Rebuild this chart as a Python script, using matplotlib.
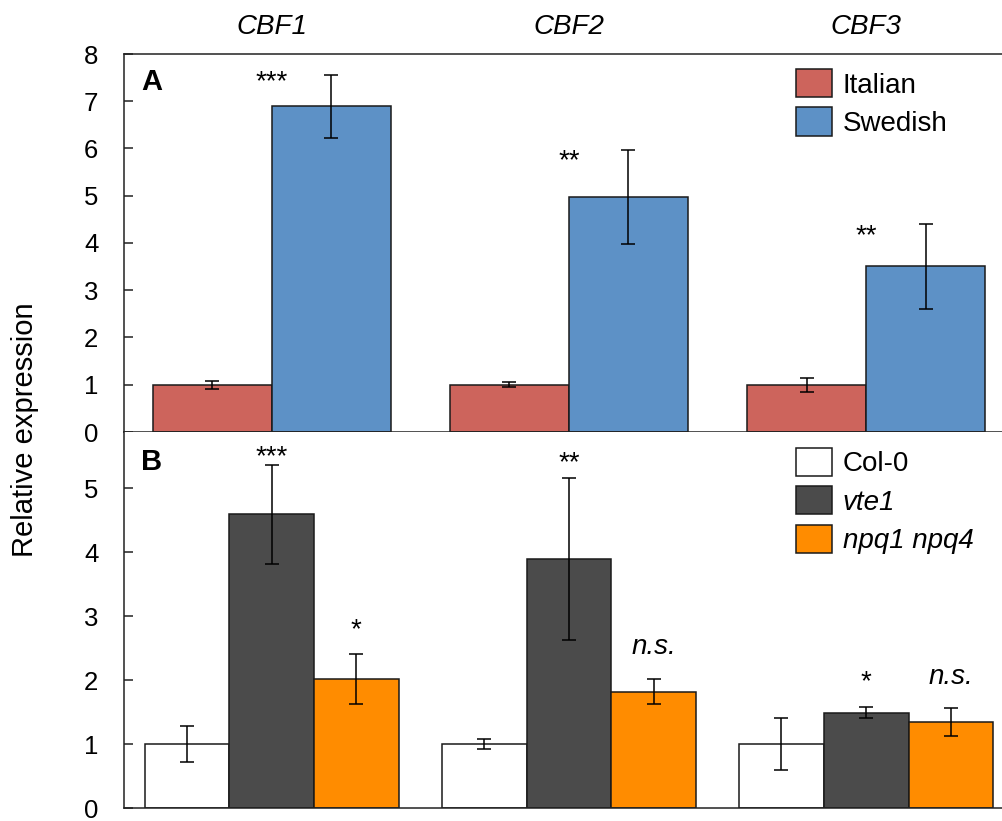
import matplotlib
matplotlib.use("Agg")
import matplotlib.pyplot as plt
import numpy as np

plt.rcParams['font.family'] = ['Liberation Sans', 'DejaVu Sans']

genes = ["CBF1", "CBF2", "CBF3"]

# panel A
italian = [1.0, 1.0, 1.0]
italian_err = [0.08, 0.05, 0.15]
swedish = [6.89, 4.97, 3.51]
swedish_err = [0.66, 1.0, 0.9]
sig_a = ["***", "**", "**"]
sig_a_y = [7.56, 5.88, 4.3]

# panel B
col0 = [1.0, 1.0, 1.0]
col0_err = [0.28, 0.08, 0.41]
vte1 = [4.59, 3.89, 1.49]
vte1_err = [0.77, 1.26, 0.085]
npq = [2.02, 1.82, 1.34]
npq_err = [0.39, 0.2, 0.22]
sig_vte1 = ["***", "**", "*"]
sig_vte1_y = [5.59, 5.49, 2.08]
sig_npq = ["*", "n.s.", "n.s."]
sig_npq_y = [2.89, 2.52, 2.05]

c_it = "#CD645C"
c_sw = "#5D91C6"
c_col = "white"
c_vte = "#4B4B4B"
c_npq = "#FF8C00"
edge = "#1a1a1a"

W, H = 1003, 821
fig = plt.figure(figsize=(W / 100, H / 100), dpi=100)

def fx(px):
    return px / W

def fy(py):
    return 1 - py / H

def star(ax, xx, yy, s):
    # asterisks sit high in the line box, so nudge them down a little
    ax.annotate(s, (xx, yy), xytext=(0, -5), textcoords="offset points",
                ha="center", va="center", fontsize=20)

left = 124
axA = fig.add_axes([fx(left), fy(432), 1 - fx(left), (432 - 54) / H])
axB = fig.add_axes([fx(left), fy(808), 1 - fx(left), (808 - 432) / H])

x = np.arange(len(genes))
ekw = dict(ecolor="black", elinewidth=1.1, capsize=4.8, capthick=1.1)

wa = 0.4
axA.bar(x - wa / 2, italian, wa, yerr=italian_err, color=c_it, edgecolor=edge,
        linewidth=1.1, label="Italian", error_kw=ekw)
axA.bar(x + wa / 2, swedish, wa, yerr=swedish_err, color=c_sw, edgecolor=edge,
        linewidth=1.1, label="Swedish", error_kw=ekw)
for i, s in enumerate(sig_a):
    star(axA, x[i], sig_a_y[i], s)

wb = 0.285
axB.bar(x - wb, col0, wb, yerr=col0_err, color=c_col, edgecolor=edge,
        linewidth=1.1, label="Col-0", error_kw=ekw)
axB.bar(x, vte1, wb, yerr=vte1_err, color=c_vte, edgecolor=edge,
        linewidth=1.1, label="vte1", error_kw=ekw)
axB.bar(x + wb, npq, wb, yerr=npq_err, color=c_npq, edgecolor=edge,
        linewidth=1.1, label="npq1 npq4", error_kw=ekw)
for i in range(len(genes)):
    star(axB, x[i], sig_vte1_y[i], sig_vte1[i])
    if sig_npq[i] == "n.s.":
        axB.text(x[i] + wb, sig_npq_y[i], sig_npq[i], ha="center", va="center",
                 fontsize=20, style="italic")
    else:
        star(axB, x[i] + wb, sig_npq_y[i], sig_npq[i])

xl = ((left - 271.6) / 297.3, (W - 271.6) / 297.3)
for ax in (axA, axB):
    ax.set_xlim(*xl)
    ax.spines["right"].set_visible(False)
    for sp in ax.spines.values():
        sp.set_linewidth(1.1)
        sp.set_color("#222222")
    ax.tick_params(axis="y", direction="in", length=6.5, width=1.1,
                   labelsize=18.5, pad=18.5, colors="#222222", labelcolor="black")

axA.set_ylim(0, 8)
axA.set_yticks(range(0, 9))
axA.xaxis.tick_top()
axA.set_xticks(x)
axA.set_xticklabels(genes, fontsize=20, style="italic")
axA.tick_params(axis="x", length=0, pad=10)

axB.set_ylim(0, 5.875)
axB.set_yticks(range(0, 6))
axB.set_xticks([])
axB.spines["top"].set_visible(False)

axA.text(fx(141), fy(82), "A", transform=fig.transFigure, fontsize=21,
         fontweight="bold", va="center", ha="left")
axB.text(fx(141), fy(462), "B", transform=fig.transFigure, fontsize=21,
         fontweight="bold", va="center", ha="left")

fig.text(fx(25), fy(430), "Relative expression", rotation=90, fontsize=21,
         ha="center", va="center")

legkw = dict(frameon=False, loc="upper left", fontsize=20, borderpad=0,
             borderaxespad=0, handlelength=1.3, handleheight=1.19,
             handletextpad=0.4, labelspacing=0.32, bbox_transform=fig.transFigure)
axA.legend(bbox_to_anchor=(fx(795.7), fy(69)), **legkw)
legB = axB.legend(bbox_to_anchor=(fx(795.7), fy(447.7)), **legkw)
for t in legB.get_texts()[1:]:
    t.set_style("italic")

fig.savefig("out.png", dpi=100)
